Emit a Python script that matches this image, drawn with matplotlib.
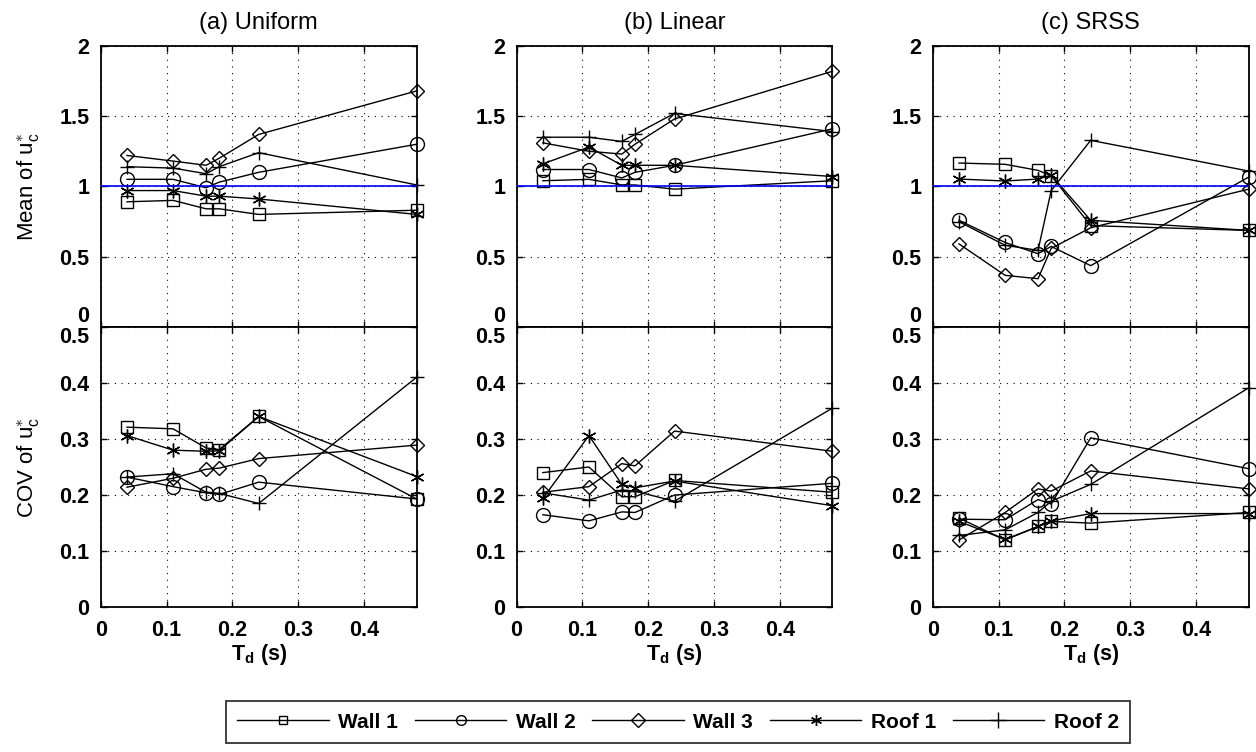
import matplotlib
matplotlib.use("Agg")
import matplotlib.pyplot as plt
from matplotlib.lines import Line2D
from matplotlib.ticker import FuncFormatter

plt.rcParams['font.family'] = ['Liberation Sans', 'DejaVu Sans']
plt.rcParams['mathtext.fontset'] = 'custom'
plt.rcParams['mathtext.rm'] = 'Liberation Sans'
plt.rcParams['mathtext.it'] = 'Liberation Sans:italic'
plt.rcParams['mathtext.bf'] = 'Liberation Sans:bold'

# Load duration (s)
Td = [0.04, 0.11, 0.16, 0.18, 0.24, 0.48]

series_names = ['Wall 1', 'Wall 2', 'Wall 3', 'Roof 1', 'Roof 2']
panel_titles = ['(a) Uniform', '(b) Linear', '(c) SRSS']

# Mean of u_c*
mean_uniform_wall1 = [0.89, 0.90, 0.84, 0.84, 0.80, 0.83]
mean_uniform_wall2 = [1.05, 1.05, 0.99, 1.03, 1.10, 1.30]
mean_uniform_wall3 = [1.22, 1.18, 1.15, 1.20, 1.37, 1.68]
mean_uniform_roof1 = [0.97, 0.97, 0.93, 0.93, 0.91, 0.80]
mean_uniform_roof2 = [1.14, 1.13, 1.09, 1.14, 1.24, 1.01]

mean_linear_wall1 = [1.04, 1.05, 1.01, 1.01, 0.98, 1.04]
mean_linear_wall2 = [1.12, 1.12, 1.06, 1.10, 1.15, 1.41]
mean_linear_wall3 = [1.31, 1.25, 1.23, 1.30, 1.48, 1.82]
mean_linear_roof1 = [1.16, 1.28, 1.15, 1.15, 1.15, 1.07]
mean_linear_roof2 = [1.35, 1.35, 1.32, 1.37, 1.52, 1.39]

mean_srss_wall1 = [1.166, 1.157, 1.114, 1.076, 0.720, 0.686]
mean_srss_wall2 = [0.758, 0.600, 0.520, 0.572, 0.435, 1.066]
mean_srss_wall3 = [0.590, 0.366, 0.342, 0.558, 0.705, 0.980]
mean_srss_roof1 = [1.052, 1.038, 1.052, 1.080, 0.758, 0.686]
mean_srss_roof2 = [0.748, 0.580, 0.544, 0.970, 1.328, 1.109]

# COV of u_c*
cov_uniform_wall1 = [0.321, 0.318, 0.284, 0.281, 0.340, 0.193]
cov_uniform_wall2 = [0.232, 0.215, 0.204, 0.201, 0.223, 0.193]
cov_uniform_wall3 = [0.214, 0.230, 0.246, 0.248, 0.265, 0.289]
cov_uniform_roof1 = [0.306, 0.280, 0.278, 0.279, 0.340, 0.233]
cov_uniform_roof2 = [0.232, 0.238, 0.205, 0.203, 0.185, 0.410]

cov_linear_wall1 = [0.240, 0.250, 0.197, 0.197, 0.226, 0.205]
cov_linear_wall2 = [0.165, 0.154, 0.170, 0.169, 0.200, 0.221]
cov_linear_wall3 = [0.205, 0.215, 0.256, 0.252, 0.314, 0.278]
cov_linear_roof1 = [0.194, 0.306, 0.219, 0.213, 0.225, 0.181]
cov_linear_roof2 = [0.204, 0.191, 0.209, 0.207, 0.189, 0.355]

cov_srss_wall1 = [0.159, 0.120, 0.144, 0.153, 0.150, 0.169]
cov_srss_wall2 = [0.157, 0.156, 0.192, 0.184, 0.302, 0.247]
cov_srss_wall3 = [0.120, 0.169, 0.211, 0.207, 0.243, 0.211]
cov_srss_roof1 = [0.153, 0.121, 0.144, 0.154, 0.167, 0.167]
cov_srss_roof2 = [0.128, 0.138, 0.169, 0.189, 0.219, 0.391]

mean_data = [
    [mean_uniform_wall1, mean_uniform_wall2, mean_uniform_wall3, mean_uniform_roof1, mean_uniform_roof2],
    [mean_linear_wall1, mean_linear_wall2, mean_linear_wall3, mean_linear_roof1, mean_linear_roof2],
    [mean_srss_wall1, mean_srss_wall2, mean_srss_wall3, mean_srss_roof1, mean_srss_roof2],
]
cov_data = [
    [cov_uniform_wall1, cov_uniform_wall2, cov_uniform_wall3, cov_uniform_roof1, cov_uniform_roof2],
    [cov_linear_wall1, cov_linear_wall2, cov_linear_wall3, cov_linear_roof1, cov_linear_roof2],
    [cov_srss_wall1, cov_srss_wall2, cov_srss_wall3, cov_srss_roof1, cov_srss_roof2],
]

asterisk = (6, 2, 0)
styles = [
    dict(marker='s', markersize=8),
    dict(marker='o', markersize=10),
    dict(marker='D', markersize=7),
    dict(marker=asterisk, markersize=10),
    dict(marker='+', markersize=10),
]

W, H = 1256, 752
fig = plt.figure(figsize=(W / 100, H / 100), dpi=100)

lefts = [100.7, 516.5, 932.7]
ax_w = 316.0
top_y0, top_y1 = 46.0, 326.7
bot_y0, bot_y1 = 326.7, 607.3
TICK_SIZE = 15.5


def style_axes(ax):
    ax.set_xlim(0, 0.48)
    ax.set_xticks([0, 0.1, 0.2, 0.3, 0.4])
    ax.grid(True, color='black', linestyle=(0, (1, 5)), linewidth=0.8)
    ax.tick_params(direction='in', length=4, width=1.0, top=True, right=True,
                   labelsize=TICK_SIZE)
    ax.tick_params(axis='x', pad=9)
    ax.tick_params(axis='y', pad=8)
    for lab in ax.get_xticklabels() + ax.get_yticklabels():
        lab.set_fontweight('bold')
    for sp in ax.spines.values():
        sp.set_linewidth(1.3)


gfmt = FuncFormatter(lambda v, p: ('%g' % round(v, 2)))

for i in range(3):
    left = lefts[i] / W
    axt = fig.add_axes([left, 1 - top_y1 / H, ax_w / W, (top_y1 - top_y0) / H])
    axb = fig.add_axes([left, 1 - bot_y1 / H, ax_w / W, (bot_y1 - bot_y0) / H])

    for ys, st in zip(mean_data[i], styles):
        axt.plot(Td, ys, color='black', linewidth=1.0, fillstyle='none',
                 markeredgewidth=1.0, clip_on=False, **st)
    axt.axhline(1.0, color='#0000ff', linewidth=1.2, zorder=5)
    axt.set_ylim(0, 2)
    axt.set_yticks([0, 0.5, 1, 1.5, 2])
    axt.yaxis.set_major_formatter(gfmt)
    axt.set_title(panel_titles[i], fontsize=17, pad=12)
    axt.tick_params(labelbottom=False)

    for ys, st in zip(cov_data[i], styles):
        axb.plot(Td, ys, color='black', linewidth=1.0, fillstyle='none',
                 markeredgewidth=1.0, clip_on=False, **st)
    axb.set_ylim(0, 0.5)
    axb.set_yticks([0, 0.1, 0.2, 0.3, 0.4, 0.5])
    axb.yaxis.set_major_formatter(gfmt)
    axb.xaxis.set_major_formatter(gfmt)
    axb.set_xlabel(r'T$_{\mathbf{d}}$ (s)', fontsize=15.5, fontweight='bold', labelpad=1)

    style_axes(axt)
    style_axes(axb)

    # Keep the shared-edge labels apart: top panel's "0" above, bottom panel's "0.5" below
    axt.yaxis.get_major_ticks()[0].label1.set_verticalalignment('bottom')
    axb.yaxis.get_major_ticks()[-1].label1.set_verticalalignment('top')

    if i == 0:
        axt.set_ylabel(r'Mean of u$_{\mathrm{c}}^{\ast}$', fontsize=16)
        axb.set_ylabel(r'COV of u$_{\mathrm{c}}^{\ast}$', fontsize=16)
        axt.yaxis.set_label_coords(-0.186, 0.5)
        axb.yaxis.set_label_coords(-0.186, 0.5)

# Legend with smaller marker glyphs
legend_sizes = [6, 7, 7, 8, 11]
handles = [Line2D([], [], color='black', linewidth=1.0, fillstyle='none',
                  markeredgewidth=1.0, marker=st['marker'], markersize=ms)
           for st, ms in zip(styles, legend_sizes)]
leg = fig.legend(handles, series_names, loc='center', ncol=5,
                 bbox_to_anchor=(678 / W, 1 - 722 / H),
                 prop=dict(size=15, weight='bold'), frameon=True, fancybox=False,
                 handlelength=4.4, handletextpad=0.45, columnspacing=0.8,
                 borderpad=0.55, edgecolor='black')
leg.get_frame().set_linewidth(1.3)

fig.savefig('out.png', dpi=100)
